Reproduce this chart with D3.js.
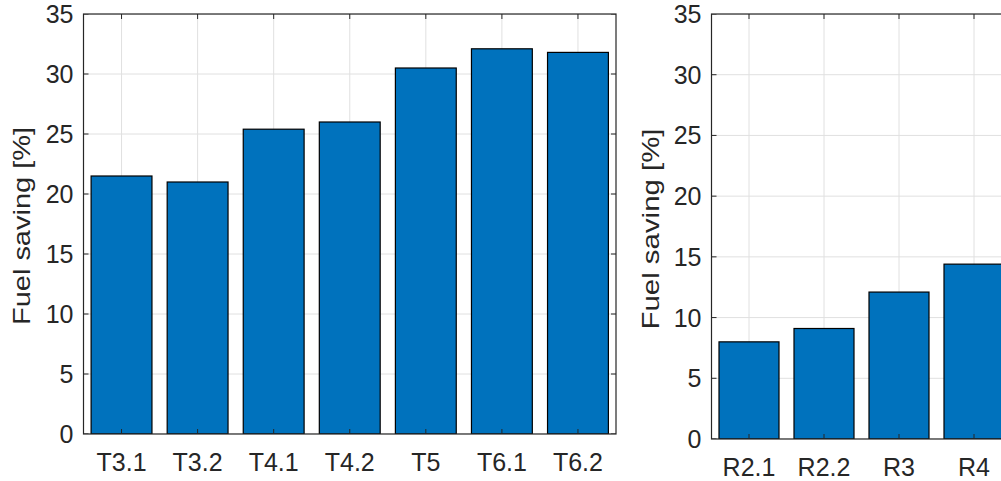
<!DOCTYPE html>
<html>
<head>
<meta charset="utf-8">
<script src="https://cdn.jsdelivr.net/npm/d3@7"></script>
<style>
  html, body { margin: 0; padding: 0; background: #fff; overflow: hidden; }
  svg { display: block; }
  text { font-family: "Liberation Sans", Arial, Helvetica, sans-serif; fill: #262626; }
</style>
</head>
<body>
<svg id="chart" width="1001" height="481"></svg>
<script>
// Data
const leftCategories = ["T3.1", "T3.2", "T4.1", "T4.2", "T5", "T6.1", "T6.2"];
const leftValues = [21.5, 21.0, 25.4, 26.0, 30.5, 32.1, 31.8];
const rightCategories = ["R2.1", "R2.2", "R3", "R4"];
const rightValues = [8.0, 9.1, 12.1, 14.4];
const yTicks = [0, 5, 10, 15, 20, 25, 30, 35];
const yLabel = "Fuel saving [%]";

const svg = d3.select("#chart");
const axisColor = "#262626";
const gridColor = "#e0e0e0";
const barColor = "#0072BD";
const tickFont = 25;
const labelFont = 24;

function drawPanel(cfg) {
  const { left, right, top, bottom, cats, vals, labelX, labelY, labelLen } = cfg;
  const g = svg.append("g");
  const x = d3.scaleLinear().domain([0.5, cats.length + 0.5]).range([left, right]);
  const y = d3.scaleLinear().domain([0, 35]).range([bottom, top]);

  const clipId = "clip" + Math.round(left);
  svg.append("clipPath").attr("id", clipId)
    .append("rect").attr("x", left).attr("y", top).attr("width", right - left).attr("height", bottom - top);

  const inner = g.append("g");
  // grid
  inner.selectAll("line.gy").data(yTicks).join("line")
    .attr("x1", left).attr("x2", right)
    .attr("y1", d => y(d)).attr("y2", d => y(d))
    .attr("stroke", gridColor).attr("stroke-width", 1);
  inner.selectAll("line.gx").data(cats).join("line")
    .attr("x1", (d, i) => x(i + 1)).attr("x2", (d, i) => x(i + 1))
    .attr("y1", top).attr("y2", bottom)
    .attr("stroke", gridColor).attr("stroke-width", 1);

  // bars
  const bw = x(1.4) - x(0.6);
  inner.selectAll("rect.bar").data(vals).join("rect")
    .attr("x", (d, i) => x(i + 1) - bw / 2)
    .attr("width", bw)
    .attr("y", d => y(d))
    .attr("height", d => y(0) - y(d))
    .attr("fill", barColor)
    .attr("stroke", "#000").attr("stroke-width", 1.2);

  // ticks (inward, bottom & top, left & right)
  const tl = 5;
  const ticksG = g.append("g").attr("stroke", axisColor).attr("stroke-width", 1);
  cats.forEach((c, i) => {
    ticksG.append("line").attr("x1", x(i + 1)).attr("x2", x(i + 1)).attr("y1", bottom).attr("y2", bottom - tl);
    ticksG.append("line").attr("x1", x(i + 1)).attr("x2", x(i + 1)).attr("y1", top).attr("y2", top + tl);
  });
  yTicks.forEach(t => {
    ticksG.append("line").attr("x1", left).attr("x2", left + tl).attr("y1", y(t)).attr("y2", y(t));
    ticksG.append("line").attr("x1", right).attr("x2", right - tl).attr("y1", y(t)).attr("y2", y(t));
  });

  inner.attr("clip-path", `url(#${clipId})`);
  ticksG.attr("clip-path", `url(#${clipId})`);

  // box
  g.append("rect").attr("x", left).attr("y", top).attr("width", right - left).attr("height", bottom - top)
    .attr("fill", "none").attr("stroke", axisColor).attr("stroke-width", 1.2);

  // y tick labels
  g.selectAll("text.yt").data(yTicks).join("text")
    .attr("x", left - 10).attr("y", d => y(d))
    .attr("dy", "0.36em")
    .attr("text-anchor", "end")
    .style("font-size", tickFont + "px")
    .text(d => d);

  // x tick labels
  g.selectAll("text.xt").data(cats).join("text")
    .attr("x", (d, i) => x(i + 1)).attr("y", bottom + 37)
    .attr("text-anchor", "middle")
    .style("font-size", tickFont + "px")
    .text(d => d);

  // y label (stretched along its length as in the reference)
  g.append("text")
    .attr("transform", `translate(${labelX},${labelY}) rotate(-90)`)
    .attr("x", -labelLen / 2)
    .attr("textLength", labelLen)
    .attr("lengthAdjust", "spacingAndGlyphs")
    .style("font-size", labelFont + "px")
    .text(yLabel);
}

drawPanel({ left: 83.5, right: 616, top: 14, bottom: 434, cats: leftCategories, vals: leftValues, labelX: 29.5, labelY: 226, labelLen: 198 });
drawPanel({ left: 711.5, right: 1011.5, top: 14, bottom: 439, cats: rightCategories, vals: rightValues, labelX: 658.5, labelY: 229, labelLen: 201 });
</script>
</body>
</html>
